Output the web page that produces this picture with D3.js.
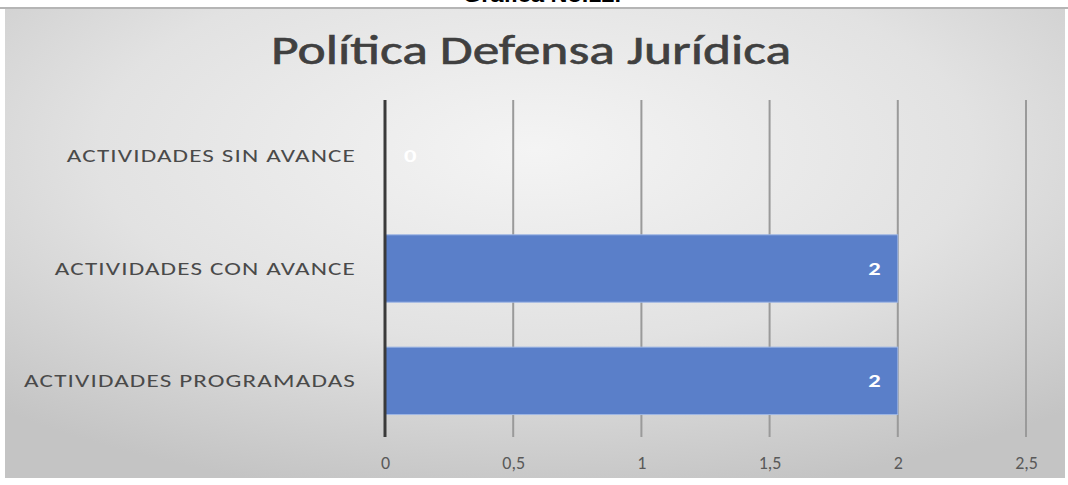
<!DOCTYPE html>
<html>
<head>
<meta charset="utf-8">
<script src="https://d3js.org/d3.v7.min.js"></script>
<style>
  body { margin: 0; background: #ffffff; }
  .cat text { font-family: Carlito, Lato, "Open Sans", sans-serif; font-size: 18px; fill: #4a4a4a; letter-spacing: 0.8px; }
  .tick-x text { font-family: Carlito, Lato, "Open Sans", sans-serif; font-size: 18px; fill: #595959; }
</style>
</head>
<body>
<svg id="chart" width="1068" height="485"></svg>
<script>
// data
var categories = ["ACTIVIDADES PROGRAMADAS", "ACTIVIDADES CON AVANCE", "ACTIVIDADES SIN AVANCE"];
var values = [2, 2, 0];
var xTicks = [0, 0.5, 1, 1.5, 2, 2.5];
var xTickLabels = ["0", "0,5", "1", "1,5", "2", "2,5"];

var svg = d3.select("#chart");

// page caption, mostly cut off at the top
svg.append("text")
  .attr("x", 542).attr("y", 2)
  .attr("text-anchor", "middle")
  .attr("textLength", 158).attr("lengthAdjust", "spacingAndGlyphs")
  .style("font-family", "Liberation Sans, Arial, sans-serif")
  .style("font-weight", "bold").style("font-size", "20px").style("fill", "#000")
  .text("Gráfica No.12.");

// background
var defs = svg.append("defs");
var grad = defs.append("radialGradient").attr("id", "bg")
  .attr("cx", "50%").attr("cy", "30%").attr("r", "75%");
grad.append("stop").attr("offset", "0%").attr("stop-color", "#f4f4f4");
grad.append("stop").attr("offset", "55%").attr("stop-color", "#e2e2e2");
grad.append("stop").attr("offset", "100%").attr("stop-color", "#c4c4c4");

svg.append("line").attr("x1", 0).attr("x2", 1068).attr("y1", 8).attr("y2", 8)
  .attr("stroke", "#b5b5b5").attr("stroke-width", 2);
svg.append("rect").attr("x", 5).attr("y", 9).attr("width", 1060).attr("height", 469)
  .attr("fill", "url(#bg)");

// title
svg.append("text")
  .attr("x", 531).attr("y", 64)
  .attr("text-anchor", "middle")
  .attr("textLength", 520).attr("lengthAdjust", "spacingAndGlyphs")
  .style("font-family", "Carlito, Lato, 'Open Sans', sans-serif")
  .style("font-size", "40px").style("fill", "#404040")
  .style("stroke", "#404040").style("stroke-width", 0.6)
  .text("Política Defensa Jurídica");

var plotTop = 100, plotBottom = 437;
var x = d3.scaleLinear().domain([0, 2.5]).range([385, 1026]);
var y = d3.scaleBand().domain(categories.slice().reverse()).range([plotTop, plotBottom])
  .paddingInner(0.4).paddingOuter(0.2);

// gridlines
svg.append("g").selectAll("line")
  .data(xTicks.slice(1))
  .enter().append("line")
  .attr("x1", function(d) { return x(d); })
  .attr("x2", function(d) { return x(d); })
  .attr("y1", plotTop).attr("y2", plotBottom)
  .attr("stroke", "#9a9a9a").attr("stroke-width", 2);

// bars
svg.append("g").selectAll("rect")
  .data(values)
  .enter().append("rect")
  .attr("x", x(0))
  .attr("y", function(d, i) { return y(categories[i]); })
  .attr("width", function(d) { return x(d) - x(0); })
  .attr("height", y.bandwidth())
  .attr("fill", "#5a7fc9")
  .attr("stroke", "#9db6e4").attr("stroke-width", 1);

// value labels
svg.append("g").selectAll("text")
  .data(values)
  .enter().append("text")
  .attr("transform", function(d, i) {
    var px = d > 0 ? x(d) - 17 : x(0) + 19;
    var py = y(categories[i]) + y.bandwidth() / 2 + 6;
    return "translate(" + px + "," + py + ") scale(1.45,1)";
  })
  .attr("text-anchor", function(d) { return d > 0 ? "end" : "start"; })
  .style("font-family", "Carlito, Lato, 'Open Sans', sans-serif")
  .style("font-weight", "bold").style("font-size", "17px").style("fill", "#ffffff")
  .text(function(d) { return d; });

// zero axis
svg.append("line").attr("x1", x(0)).attr("x2", x(0)).attr("y1", plotTop).attr("y2", plotBottom)
  .attr("stroke", "#3a3a3a").attr("stroke-width", 3);

// category labels
var yAxis = svg.append("g").attr("class", "cat")
  .attr("transform", "translate(" + 356 + ",0)")
  .call(d3.axisLeft(y).tickSize(0).tickPadding(0));
yAxis.select(".domain").remove();
yAxis.selectAll("text").attr("x", 0).attr("dy", "0.35em")
  .attr("transform", "scale(1.4,1)");

// x tick labels
var xAxis = svg.append("g").attr("class", "tick-x")
  .attr("transform", "translate(0,453)")
  .call(d3.axisBottom(x).tickValues(xTicks).tickSize(0).tickPadding(0)
    .tickFormat(function(d, i) { return xTickLabels[i]; }));
xAxis.select(".domain").remove();
xAxis.selectAll("text").attr("dy", "0.9em");
</script>
</body>
</html>
